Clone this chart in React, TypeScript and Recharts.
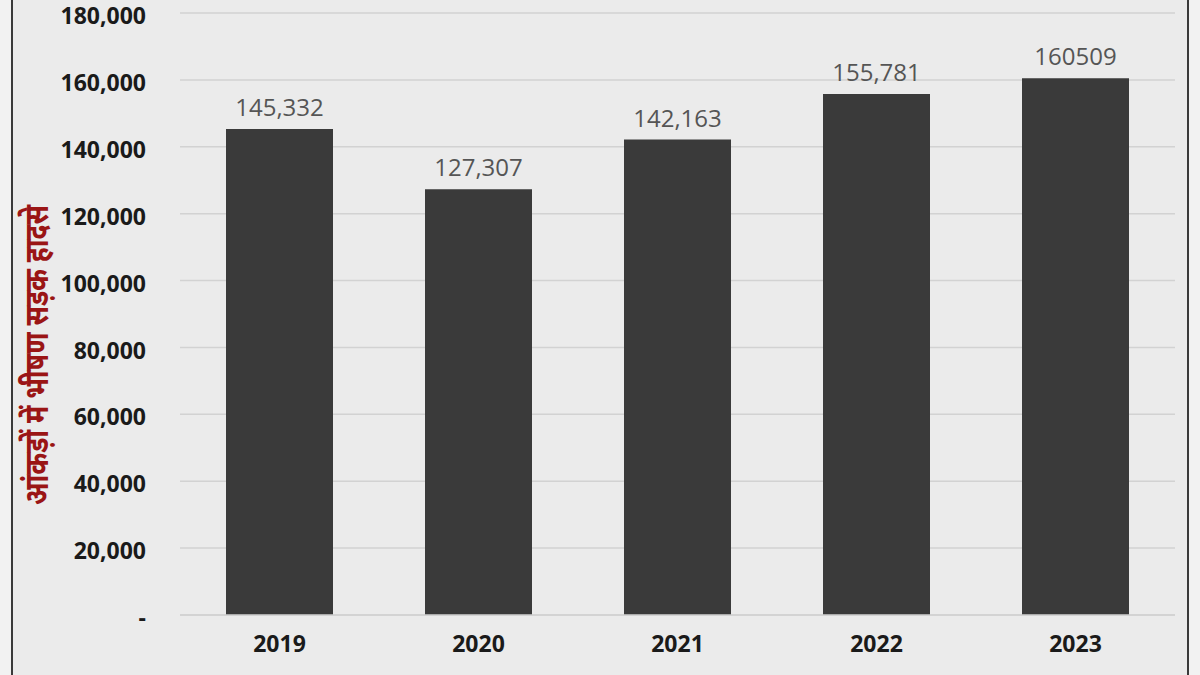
import React from 'react';
import { BarChart, Bar, XAxis, YAxis, CartesianGrid, LabelList } from 'recharts';

const years = ['2019', '2020', '2021', '2022', '2023'];
const accidents = [145332, 127307, 142163, 155781, 160509];
const valueLabels = ['145,332', '127,307', '142,163', '155,781', '160509'];
const yTicks = [0, 20000, 40000, 60000, 80000, 100000, 120000, 140000, 160000, 180000];
const yTitle = 'आंकड़ों में भीषण सड़क हादसे';

const data = years.map((y, i) => ({ year: y, value: accidents[i], label: valueLabels[i] }));

const fmt = (v: number) => (v === 0 ? '-' : v.toLocaleString('en-US'));

const YTitle = (props: any) => {
  const vb = props.viewBox || { x: 0, y: 0, width: 0, height: 0 };
  const cx = 39;
  const cy = vb.y + vb.height / 2 + 41;
  return (
    <text
      x={cx}
      y={cy}
      transform={`rotate(-90, ${cx}, ${cy})`}
      textAnchor="middle"
      dominantBaseline="central"
      fill="#9a1515"
      fontSize={33}
      fontWeight={700}
      textLength={300}
      lengthAdjust="spacingAndGlyphs"
      fontFamily="'Noto Sans Devanagari', 'Noto Sans', 'Lohit Devanagari', sans-serif"
    >
      {yTitle}
    </text>
  );
};

const tickFont = "'Open Sans', sans-serif";

export default function App() {
  return (
    <div style={{ position: 'fixed', left: 0, top: 0, width: 1200, height: 675, background: '#f2f2f2', overflow: 'hidden' }}>
      <div
        style={{
          position: 'absolute',
          left: 11,
          top: 0,
          width: 1174,
          height: 675,
          background: '#ebebeb',
          borderLeft: '2px solid #3a3a3a',
          borderRight: '2px solid #3a3a3a',
        }}
      />
      <div style={{ position: 'absolute', left: 0, top: 0 }}>
        <BarChart width={1200} height={675} data={data} margin={{ top: 13, right: 25, bottom: 0, left: 0 }}>
          <CartesianGrid vertical={false} stroke="#d2d2d2" strokeWidth={1.5} />
          <XAxis
            dataKey="year"
            height={60}
            axisLine={{ stroke: '#d2d2d2', strokeWidth: 1.5 }}
            tickLine={false}
            tickMargin={15}
            tick={{ fill: '#1a1a1a', fontSize: 23, fontWeight: 700, fontFamily: tickFont }}
          />
          <YAxis
            width={180}
            domain={[0, 180000]}
            ticks={yTicks}
            interval={0}
            tickFormatter={fmt}
            axisLine={false}
            tickLine={false}
            tickMargin={28}
            tick={{ fill: '#1a1a1a', fontSize: 23, fontWeight: 700, fontFamily: tickFont, dy: 3 }}
            label={<YTitle />}
          />
          <Bar dataKey="value" fill="#3a3a3a" barSize={107} isAnimationActive={false}>
            <LabelList
              dataKey="label"
              position="top"
              offset={13}
              fill="#555555"
              fontSize={24}
              fontFamily={tickFont}
            />
          </Bar>
        </BarChart>
      </div>
    </div>
  );
}
